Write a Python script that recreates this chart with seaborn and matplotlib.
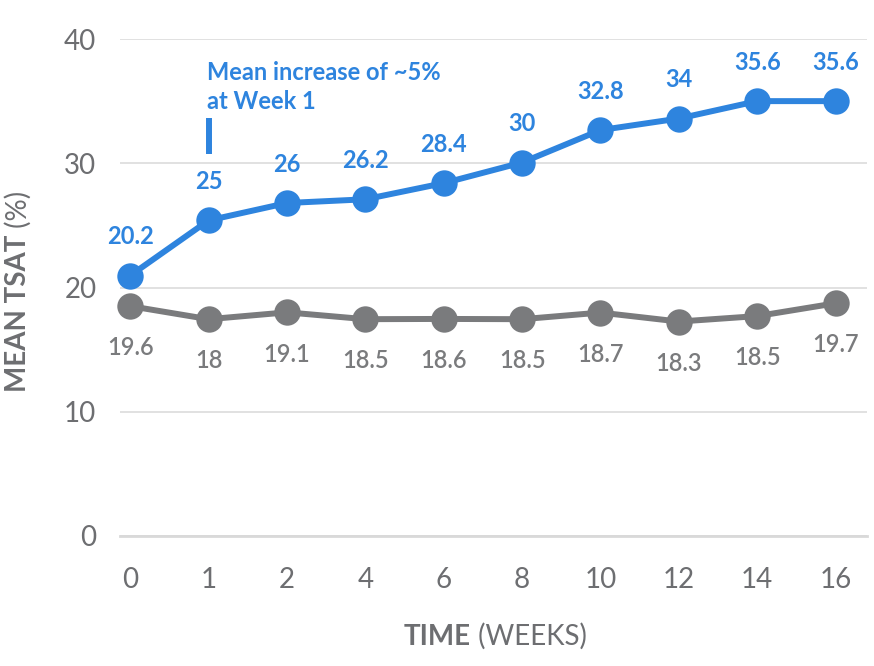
import numpy as np
import pandas as pd
import matplotlib
matplotlib.use("Agg")
import matplotlib.pyplot as plt
import seaborn as sns

# ---- data ----
weeks = ["0", "1", "2", "4", "6", "8", "10", "12", "14", "16"]
treated_plot = [20.96, 25.4, 26.8, 27.1, 28.4, 30.06, 32.67, 33.6, 35.0, 35.0]
treated_labels = ["20.2", "25", "26", "26.2", "28.4", "30", "32.8", "34", "35.6", "35.6"]
control_plot = [18.5, 17.45, 18.0, 17.45, 17.47, 17.45, 17.98, 17.26, 17.7, 18.73]
control_labels = ["19.6", "18", "19.1", "18.5", "18.6", "18.5", "18.7", "18.3", "18.5", "19.7"]
yticks = [0, 10, 20, 30, 40]
annotation = "Mean increase of ~5%\nat Week 1"

BLUE = "#2E84DE"
GRAY = "#7A7B7D"
TXT = "#6D6E71"

sns.set_theme(style="white")
plt.rcParams["font.family"] = ["Lato", "DejaVu Sans"]

pos = np.arange(len(weeks))
df = pd.DataFrame({
    "pos": np.concatenate([pos, pos]),
    "val": treated_plot + control_plot,
    "series": ["treated"] * len(pos) + ["control"] * len(pos),
})

fig = plt.figure(figsize=(8.74, 6.66), dpi=100)
ax = fig.add_axes([120 / 874, 1 - 536 / 666, (867 - 120) / 874, (536 - 39) / 666])

sns.lineplot(data=df, x="pos", y="val", hue="series",
             palette={"treated": BLUE, "control": GRAY},
             marker="o", markersize=19, markeredgewidth=0, linewidth=4.3,
             legend=False, ax=ax, zorder=3)
for ln in ax.lines:
    ln.set_clip_on(False)

ax.set_ylim(0, 40)
ax.set_xlim(-0.13, 9.4)
ax.set_yticks(yticks)
ax.set_xticks(pos)
ax.set_xticklabels(weeks)
ax.tick_params(axis="both", length=0, labelsize=20, labelcolor=TXT)
ax.tick_params(axis="y", pad=17)
ax.tick_params(axis="x", pad=22)

ax.grid(axis="y", color="#D9D9D9", linewidth=1.1)
ax.grid(axis="x", visible=False)
for s in ["top", "right", "left"]:
    ax.spines[s].set_visible(False)
ax.spines["bottom"].set_color("#D9D9D9")
ax.spines["bottom"].set_linewidth(2)
ax.set_xlabel("")
ax.set_ylabel("")

# data labels
for x, y, t in zip(pos, treated_plot, treated_labels):
    ax.annotate(t, (x, y), xytext=(0, 28), textcoords="offset points",
                ha="center", va="center", color=BLUE, fontsize=17, fontweight="bold")
for x, y, t in zip(pos, control_plot, control_labels):
    ax.annotate(t, (x, y), xytext=(0, -30), textcoords="offset points",
                ha="center", va="center", color=GRAY, fontsize=17, fontweight="semibold")

# annotation
ax.text(0.98, 34.05, annotation, color=BLUE, fontsize=17, fontweight="bold",
        ha="left", va="bottom", linespacing=1.3)
ax.plot([1, 1], [30.76, 33.65], color=BLUE, linewidth=4.3, solid_capstyle="butt")

# axis titles with mixed weights
t1 = fig.text(404 / 874, 1 - 637 / 666, "TIME", fontsize=20, fontweight="bold",
              color=TXT, ha="left", va="center")
ax.annotate(" (WEEKS)", xy=(1, 0), xycoords=t1, ha="left", va="bottom",
            fontsize=20, color=TXT)
t2 = fig.text(18 / 874, 1 - 392 / 666, "MEAN TSAT", fontsize=20, fontweight="bold",
              color=TXT, rotation=90, ha="center", va="bottom")
ax.annotate(" (%)", xy=(0, 1), xycoords=t2, ha="left", va="bottom",
            fontsize=20, color=TXT, rotation=90)

fig.savefig("out.png", dpi=100)
